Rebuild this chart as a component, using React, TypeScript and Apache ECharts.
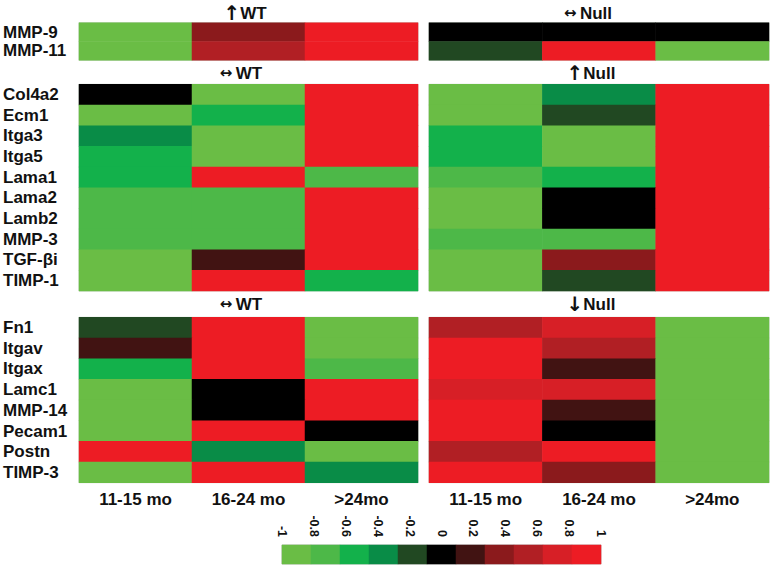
import React, { useEffect, useRef } from "react";
import * as echarts from "echarts";

const periods = ["11-15 mo", "16-24 mo", ">24mo"];

const genesA = ["MMP-9", "MMP-11"];
const genesB = ["Col4a2", "Ecm1", "Itga3", "Itga5", "Lama1", "Lama2", "Lamb2", "MMP-3", "TGF-βi", "TIMP-1"];
const genesC = ["Fn1", "Itgav", "Itgax", "Lamc1", "MMP-14", "Pecam1", "Postn", "TIMP-3"];

// values per gene: [11-15 mo, 16-24 mo, >24mo]
const wtA = [
  [-1, 0.4, 1],
  [-1, 0.6, 1],
];
const nullA = [
  [0, 0, 0],
  [-0.2, 1, -1],
];
const wtB = [
  [0, -1, 1],
  [-1, -0.6, 1],
  [-0.4, -1, 1],
  [-0.6, -1, 1],
  [-0.6, 1, -0.8],
  [-0.8, -0.8, 1],
  [-0.8, -0.8, 1],
  [-0.8, -0.8, 1],
  [-1, 0.2, 1],
  [-1, 1, -0.6],
];
const nullB = [
  [-1, -0.4, 1],
  [-1, -0.2, 1],
  [-0.6, -1, 1],
  [-0.6, -1, 1],
  [-0.8, -0.6, 1],
  [-1, 0, 1],
  [-1, 0, 1],
  [-0.8, -0.8, 1],
  [-1, 0.4, 1],
  [-1, -0.2, 1],
];
const wtC = [
  [-0.2, 1, -1],
  [0.2, 1, -1],
  [-0.6, 1, -0.8],
  [-1, 0, 1],
  [-1, 0, 1],
  [-1, 1, 0],
  [1, -0.4, -1],
  [-1, 1, -0.4],
];
const nullC = [
  [0.6, 0.8, -1],
  [1, 0.6, -1],
  [1, 0.2, -1],
  [0.8, 0.8, -1],
  [1, 0.2, -1],
  [1, 0, -1],
  [0.6, 1, -1],
  [1, 0.4, -1],
];

const panelArrows = ["↑", "↔", "↔", "↑", "↔", "↓"];
const panelNames = ["WT", "Null", "WT", "Null", "WT", "Null"];

const scaleLevels = [-1, -0.8, -0.6, -0.4, -0.2, 0, 0.2, 0.4, 0.6, 0.8, 1];
const scaleColors = [
  "#6abd45", "#4db848", "#13b14b", "#098c47", "#214822",
  "#000000", "#411312", "#8b1a1c", "#b11f24", "#d71f26", "#ed1c24",
];

const FONT = "'Liberation Sans', Arial, sans-serif";

function toCells(rows: number[][]) {
  const out: number[][] = [];
  rows.forEach((r, yi) => r.forEach((v, xi) => out.push([xi, yi, v])));
  return out;
}

export default function App() {
  const ref = useRef<HTMLDivElement>(null);
  useEffect(() => {
    if (!ref.current) return;
    const chart = echarts.init(ref.current, null, { renderer: "svg" });

    const leftX = 78, rightX = 429, panelW = 340;
    const groups = [
      { top: 22.7, height: 37.6, genes: genesA, wt: wtA, nul: nullA },
      { top: 84.3, height: 206.7, genes: genesB, wt: wtB, nul: nullB },
      { top: 317.3, height: 165.4, genes: genesC, wt: wtC, nul: nullC },
    ];

    const grid: any[] = [];
    const xAxis: any[] = [];
    const yAxis: any[] = [];
    const series: any[] = [];

    groups.forEach((g, gi) => {
      [leftX, rightX].forEach((lx, side) => {
        const idx = grid.length;
        grid.push({
          left: lx, top: g.top, width: panelW, height: g.height,
          show: true, borderColor: "#c8d4c8", borderWidth: 1, backgroundColor: "transparent",
        });
        xAxis.push({
          type: "category", gridIndex: idx, data: periods, position: "bottom",
          axisLine: { show: false }, axisTick: { show: false }, splitLine: { show: false },
          axisLabel: {
            show: gi === 2, interval: 0, margin: 8, color: "#111", fontFamily: FONT,
            fontWeight: "bold", fontSize: 17,
          },
        });
        yAxis.push({
          type: "category", gridIndex: idx, data: g.genes, inverse: true,
          axisLine: { show: false }, axisTick: { show: false }, splitLine: { show: false },
          axisLabel: {
            show: side === 0, interval: 0, align: "left", margin: 76, color: "#111",
            fontFamily: FONT, fontWeight: "bold", fontSize: 17,
          },
        });
        series.push({
          type: "heatmap", xAxisIndex: idx, yAxisIndex: idx,
          data: toCells(side === 0 ? g.wt : g.nul),
          itemStyle: { borderWidth: 0 },
          emphasis: { disabled: true },
        });
      });
    });

    // colour scale
    const cbIdx = grid.length;
    grid.push({ left: 282, top: 545, width: 319, height: 19, show: true, borderColor: "#bbbbbb", borderWidth: 1, backgroundColor: "transparent" });
    xAxis.push({
      type: "category", gridIndex: cbIdx, data: scaleLevels.map(String),
      axisLine: { show: false }, axisTick: { show: false }, axisLabel: { show: false }, splitLine: { show: false },
    });
    xAxis.push({
      type: "value", gridIndex: cbIdx, position: "top", min: -1, max: 1, interval: 0.2,
      axisLine: { show: false }, axisTick: { show: false }, splitLine: { show: false },
      axisLabel: {
        rotate: 90, margin: 8, color: "#111", fontFamily: FONT, fontWeight: "bold", fontSize: 12.5,
        formatter: (v: number) => String(Math.round(v * 10) / 10),
      },
    });
    yAxis.push({
      type: "category", gridIndex: cbIdx, data: ["scale"],
      axisLine: { show: false }, axisTick: { show: false }, axisLabel: { show: false }, splitLine: { show: false },
    });
    series.push({
      type: "heatmap", xAxisIndex: cbIdx, yAxisIndex: cbIdx,
      data: scaleLevels.map((v, i) => [i, 0, v]),
      itemStyle: { borderWidth: 0 },
      emphasis: { disabled: true },
    });

    const titleY = [13, 73, 304];
    const titleX = [245, 588, 241, 591, 241, 591];
    const graphic = panelNames.map((t, i) => {
      const horiz = panelArrows[i] === "↔";
      return {
        type: "text",
        x: titleX[i],
        y: titleY[Math.floor(i / 2)],
        style: {
          text: `{a|${panelArrows[i]}}${horiz ? " " : ""}{b|${t}}`,
          textAlign: "center", textVerticalAlign: "middle",
          rich: {
            a: {
              fontFamily: "'DejaVu Sans', sans-serif", fontWeight: "bold",
              fontSize: horiz ? 15 : 20, fill: "#111", verticalAlign: "middle",
            },
            b: { fontFamily: FONT, fontWeight: "bold", fontSize: 17, fill: "#111", verticalAlign: "middle" },
          },
        },
      };
    });

    chart.setOption({
      animation: false,
      backgroundColor: "#ffffff",
      tooltip: { show: false },
      grid, xAxis, yAxis, series, graphic,
      visualMap: {
        type: "piecewise",
        show: false,
        seriesIndex: series.map((_, i) => i),
        pieces: scaleLevels.map((v, i) => ({ min: v - 0.1, max: v + 0.1, color: scaleColors[i] })),
      },
    });
    return () => chart.dispose();
  }, []);

  return (
    <div
      ref={ref}
      style={{ position: "absolute", left: 0, top: 0, width: 770, height: 568 }}
    />
  );
}
